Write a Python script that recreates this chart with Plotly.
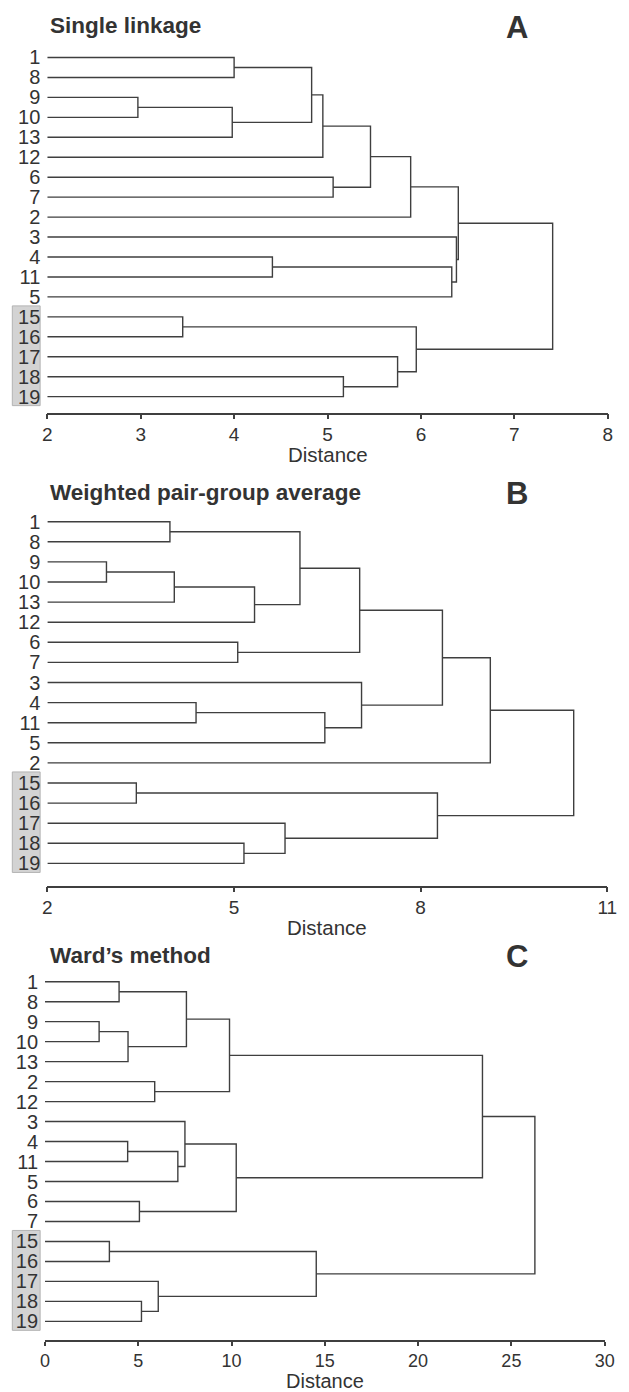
import plotly.graph_objects as go

# ---------------- data ----------------
# Panel A: Single linkage
A_leaves = ["1", "8", "9", "10", "13", "12", "6", "7", "2", "3", "4", "11", "5", "15", "16", "17", "18", "19"]
A_left = ["1", "9", "#1", "#0", "#3", "6", "#4", "#6", "4", "#8", "3", "#7", "15", "18", "17", "#12", "#11"]
A_right = ["8", "10", "13", "#2", "12", "7", "#5", "2", "11", "5", "#9", "#10", "16", "19", "#13", "#14", "#15"]
A_height = [4.00, 2.97, 3.98, 4.83, 4.95, 5.06, 5.46, 5.89, 4.41, 6.33, 6.38, 6.40, 3.45, 5.17, 5.75, 5.95, 7.41]
A_ticks = [2, 3, 4, 5, 6, 7, 8]

# Panel B: Weighted pair-group average
B_leaves = ["1", "8", "9", "10", "13", "12", "6", "7", "3", "4", "11", "5", "2", "15", "16", "17", "18", "19"]
B_left = ["1", "9", "#1", "#2", "#0", "6", "#4", "4", "#7", "3", "#6", "#10", "15", "18", "17", "#12", "#11"]
B_right = ["8", "10", "13", "12", "#3", "7", "#5", "11", "5", "#8", "#9", "2", "16", "19", "#13", "#14", "#15"]
B_height = [3.97, 2.95, 4.04, 5.33, 6.06, 5.06, 7.02, 4.39, 6.46, 7.05, 8.35, 9.12, 3.43, 5.16, 5.82, 8.27, 10.46]
B_ticks = [2, 5, 8, 11]

# Panel C: Ward's method
C_leaves = ["1", "8", "9", "10", "13", "2", "12", "3", "4", "11", "5", "6", "7", "15", "16", "17", "18", "19"]
C_left = ["1", "9", "#1", "#0", "2", "#3", "4", "#6", "3", "6", "#8", "#5", "15", "18", "17", "#12", "#11"]
C_right = ["8", "10", "13", "#2", "12", "#4", "11", "5", "#7", "7", "#9", "#10", "16", "19", "#13", "#14", "#15"]
C_height = [3.97, 2.90, 4.45, 7.58, 5.88, 9.89, 4.43, 7.12, 7.50, 5.06, 10.25, 23.45, 3.45, 5.17, 6.07, 14.54, 26.26]
C_ticks = [0, 5, 10, 15, 20, 25, 30]

highlighted = ["15", "16", "17", "18", "19"]
titles = ["Single linkage", "Weighted pair-group average", "Ward\u2019s method"]
letters = ["A", "B", "C"]

# ---------------- layout constants (pixels) ----------------
W, H = 629, 1392
panels = [
    dict(leaves=A_leaves, left=A_left, right=A_right, height=A_height, ticks=A_ticks,
         x0px=43.3, x1px=617.5, y0px=57.5, step=19.95, axispx=412.7, title_y=25, letter_y=28,
         dist_off=42, ticklen=5, tickfs=19, distfs=20.5, std=-1),
    dict(leaves=B_leaves, left=B_left, right=B_right, height=B_height, ticks=B_ticks,
         x0px=43.4, x1px=617.0, y0px=521.7, step=20.1, axispx=885.7, title_y=492, letter_y=493,
         dist_off=42, ticklen=5, tickfs=19, distfs=20.5, std=-1),
    dict(leaves=C_leaves, left=C_left, right=C_right, height=C_height, ticks=C_ticks,
         x0px=41.0, x1px=614.3, y0px=981.7, step=19.98, axispx=1340.3, title_y=955, letter_y=956,
         dist_off=40.5, ticklen=4, tickfs=18, distfs=20, std=-1),
]

LINE = "#3f3f3f"
TEXT = "#333333"
FONT = "Liberation Sans, Arial, sans-serif"


def dendro_path(leaves, left, right, height, base):
    pos = {lab: (float(i), base) for i, lab in enumerate(leaves)}
    xs, ys = [], []
    for k, (a, b, h) in enumerate(zip(left, right, height)):
        pa, ha = pos[a]
        pb, hb = pos[b]
        xs += [ha, h, h, hb, None]
        ys += [pa, pa, pb, pb, None]
        pos["#%d" % k] = ((pa + pb) / 2.0, h)
    return xs, ys


fig = go.Figure()
annotations = []
shapes = []

for i, p in enumerate(panels):
    n = "" if i == 0 else str(i + 1)
    xa, ya = "x" + n, "y" + n
    xmin, xmax = p["ticks"][0], p["ticks"][-1]
    xs, ys = dendro_path(p["leaves"], p["left"], p["right"], p["height"], xmin)
    fig.add_trace(go.Scatter(x=xs, y=ys, mode="lines", xaxis=xa, yaxis=ya,
                             line=dict(color=LINE, width=1.4), hoverinfo="skip",
                             showlegend=False))

    idx_bottom = (p["axispx"] - p["y0px"]) / p["step"]
    idx_top = -0.75
    top_px = p["y0px"] + idx_top * p["step"]
    ydom = [1 - p["axispx"] / H, 1 - top_px / H]
    xdom = [p["x0px"] / W, p["x1px"] / W]

    fig.layout["xaxis" + n] = dict(
        domain=xdom, anchor=ya, range=[xmin, xmax], tickvals=p["ticks"],
        showline=True, linecolor=LINE, linewidth=1.5, ticks="outside", ticklen=p["ticklen"],
        tickwidth=1.5, tickcolor=LINE, showgrid=False, zeroline=False,
        ticklabelstandoff=p["std"],
        tickfont=dict(family=FONT, size=p["tickfs"], color=TEXT), fixedrange=True)
    fig.layout["yaxis" + n] = dict(
        domain=ydom, anchor=xa, range=[idx_bottom, idx_top],
        tickvals=list(range(len(p["leaves"]))), ticktext=p["leaves"],
        showline=False, showgrid=False, zeroline=False, ticks="",
        ticklabelstandoff=6,
        tickfont=dict(family=FONT, size=20, color=TEXT), fixedrange=True)

    # grey box behind highlighted leaves
    hl = [p["leaves"].index(l) for l in highlighted]
    shapes.append(dict(type="rect", xref="paper", yref=ya,
                       x0=7.5 / W, x1=36.0 / W, y0=min(hl) - 0.55, y1=max(hl) + 0.45,
                       fillcolor="#d3d3d3", line=dict(color="#b4b4b4", width=1), layer="below"))

    # axis title
    annotations.append(dict(text="Distance", xref="paper", yref="paper",
                            x=(p["x0px"] + p["x1px"]) / 2 / W, y=1 - (p["axispx"] + p["dist_off"]) / H,
                            xanchor="center", yanchor="middle", showarrow=False,
                            font=dict(family=FONT, size=p["distfs"], color=TEXT)))
    # panel title
    annotations.append(dict(text="<b>%s</b>" % titles[i], xref="paper", yref="paper",
                            x=44 / W, y=1 - p["title_y"] / H, xanchor="left", yanchor="middle",
                            showarrow=False, font=dict(family=FONT, size=22.5, color=TEXT)))
    # panel letter
    annotations.append(dict(text="<b>%s</b>" % letters[i], xref="paper", yref="paper",
                            x=525 / W, y=1 - p["letter_y"] / H, xanchor="center", yanchor="middle",
                            showarrow=False, font=dict(family=FONT, size=31, color=TEXT)))

fig.update_layout(width=W, height=H, margin=dict(l=0, r=0, t=0, b=0),
                  paper_bgcolor="white", plot_bgcolor="white",
                  annotations=annotations, shapes=shapes, showlegend=False)

fig.write_html("out.html", config={"displayModeBar": False},
               post_script="document.body.style.margin='0';document.body.style.overflow='hidden';"
                           "document.documentElement.style.overflow='hidden';")
